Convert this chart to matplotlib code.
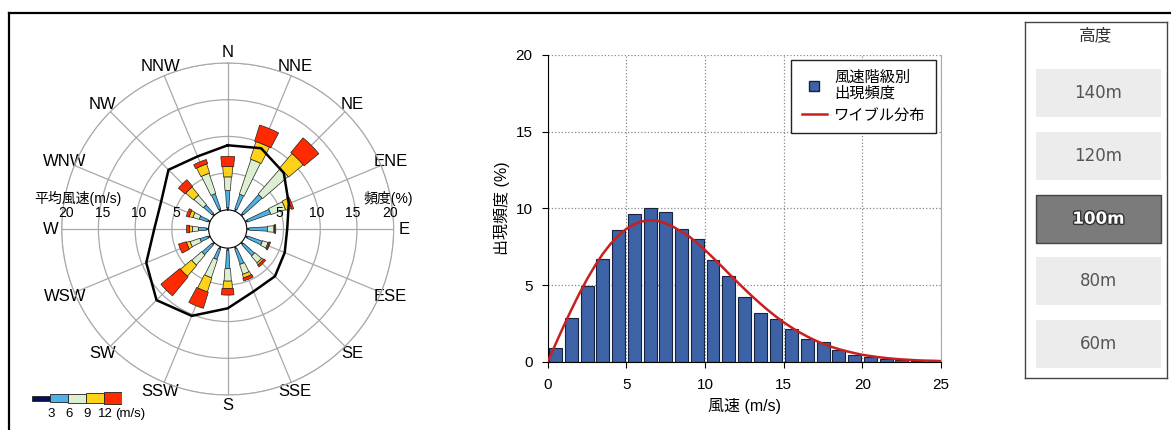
import numpy as np
import matplotlib.pyplot as plt
from matplotlib.lines import Line2D
from matplotlib.patches import Rectangle
import matplotlib.patheffects as pe

plt.rcParams['font.family'] = ['Liberation Sans', 'Noto Sans CJK JP']

# wind rose: frequency (%) of each direction split by wind speed class
directions = ['N', 'NNE', 'NE', 'ENE', 'E', 'ESE', 'SE', 'SSE',
              'S', 'SSW', 'SW', 'WSW', 'W', 'WNW', 'NW', 'NNW']
freq_0_3 = [0.3, 0.3, 0.3, 0.3, 0.3, 0.3, 0.3, 0.3, 0.3, 0.3, 0.3, 0.3, 0.3, 0.3, 0.3, 0.3]
freq_3_6 = [2.35, 2.1, 3.4, 3.3, 2.5, 2.1, 2.0, 2.2, 2.5, 1.5, 1.8, 1.1, 1.1, 1.2, 1.5, 2.2]
freq_6_9 = [1.85, 5.0, 4.6, 2.1, 0.9, 0.8, 1.2, 1.4, 1.7, 2.6, 1.8, 1.4, 0.8, 0.9, 1.7, 2.9]
freq_9_12 = [1.4, 2.5, 2.6, 0.8, 0.1, 0.15, 0.3, 0.5, 1.0, 2.0, 1.95, 0.5, 0.4, 0.5, 1.4, 1.3]
freq_12_up = [1.4, 2.3, 2.6, 0.3, 0.15, 0.15, 0.3, 0.4, 0.9, 2.3, 3.35, 1.1, 0.4, 0.4, 1.2, 0.6]
# mean wind speed (m/s) per direction (black line)
mean_speed = [8.8, 9.3, 8.2, 6.4, 5.5, 5.8, 6.5, 6.6, 8.2, 10.2, 11.1, 9.4, 7.4, 7.2, 8.8, 8.1]
class_edges = [0, 3, 6, 9, 12, 15]
ring_values = [5, 10, 15, 20]

# histogram of wind speed classes (%) and the fitted Weibull curve
speed_bins = list(range(25))
hist_freq = [0.87, 2.87, 4.93, 6.7, 8.57, 9.63, 10.0, 9.78, 8.65, 8.0, 6.63, 5.59, 4.24,
             3.2, 2.8, 2.1, 1.48, 1.3, 0.76, 0.43, 0.33, 0.2, 0.1, 0.05, 0.03]
weibull_x = np.arange(0, 25.5, 0.5)
weibull_y = [0, 1.15, 2.29, 3.38, 4.42, 5.38, 6.25, 7.03, 7.69, 8.23, 8.66, 8.96, 9.15,
             9.22, 9.18, 9.03, 8.79, 8.48, 8.16, 7.74, 7.28, 6.79, 6.28, 5.76, 5.25, 4.75,
             4.26, 3.80, 3.36, 2.95, 2.57, 2.23, 1.92, 1.64, 1.39, 1.17, 0.98, 0.82, 0.68,
             0.56, 0.45, 0.37, 0.30, 0.24, 0.19, 0.15, 0.12, 0.09, 0.07, 0.06, 0.04]

heights = ['140m', '120m', '100m', '80m', '60m']
selected = '100m'

class_colors = ['#0b0b5c', '#4db3e6', '#dcefd0', '#ffd21a', '#ff2a00']
class_widths = [0.06, 0.11, 0.14, 0.16, 0.19]
bar_color = '#3d62a6'
curve_color = '#c8201e'

W, H = 1171, 430
fig = plt.figure(figsize=(W / 100, H / 100), dpi=100)

# ---- wind rose ----
cx, cy, R = 227.7, 229, 166
ax = fig.add_axes([(cx - R) / W, (H - cy - R) / H, 2 * R / W, 2 * R / H], projection='polar')
ax.set_theta_zero_location('N')
ax.set_theta_direction(-1)
ax.set_ylim(0, 20)
ax.set_rorigin(-2.6)
theta = np.deg2rad(np.arange(len(directions)) * 22.5)
ax.set_xticks(theta)
ax.set_xticklabels(directions, fontsize=12)
ax.tick_params(axis='x', pad=-3)
ax.set_yticks(ring_values)
ax.set_yticklabels([])
ax.grid(color='#a8a8a8', lw=0.9)
ax.spines['polar'].set_color('#a8a8a8')
ax.spines['inner'].set_visible(False)

bottom = np.zeros(len(directions))
for vals, col, w in zip([freq_0_3, freq_3_6, freq_6_9, freq_9_12, freq_12_up],
                        class_colors, class_widths):
    ax.bar(theta, vals, width=w, bottom=bottom, color=col, edgecolor='#222222',
           lw=0.5, zorder=3)
    bottom = bottom + np.array(vals)

ax.plot(np.append(theta, theta[0]), np.append(mean_speed, mean_speed[0]),
        color='k', lw=1.8, zorder=4)

for v in ring_values:
    ax.annotate(str(v), xy=(np.pi / 2, v), xytext=(-4, 16), textcoords='offset pixels',
                ha='center', va='center', fontsize=10, annotation_clip=False)
    ax.annotate(str(v), xy=(3 * np.pi / 2, v), xytext=(4, 16), textcoords='offset pixels',
                ha='center', va='center', fontsize=10, annotation_clip=False)
ax.annotate('頻度(%)', xy=(np.pi / 2, 20), xytext=(19, 31), textcoords='offset pixels',
            ha='right', va='center', fontsize=10, annotation_clip=False)
ax.annotate('平均風速(m/s)', xy=(3 * np.pi / 2, 20), xytext=(-27, 31),
            textcoords='offset pixels', ha='left', va='center', fontsize=10,
            annotation_clip=False)

# speed class key
cax = fig.add_axes([31.7 / W, (H - 405) / H, 90 / W, 14 / H])
cax.set_xlim(class_edges[0], class_edges[-1])
cax.set_ylim(-7, 7)
cax.axis('off')
seg_h = [5, 7.5, 9, 10, 11.5]
for i, col in enumerate(class_colors):
    lo, hi = class_edges[i], class_edges[i + 1]
    cax.barh(0, hi - lo, left=lo, height=seg_h[i], color=col, edgecolor='#222222', lw=0.6)
for v in class_edges[1:-1]:
    cax.text(v + 0.3, -16, str(v), ha='center', va='center', fontsize=9.5, clip_on=False)
cax.text(13.9, -16, '(m/s)', ha='left', va='center', fontsize=9.5, clip_on=False)

# ---- histogram ----
hx = fig.add_axes([547.7 / W, (H - 361.7) / H, (941 - 547.7) / W, (361.7 - 55) / H])
hx.bar(np.array(speed_bins) + 0.1, hist_freq, width=0.82, align='edge',
       color=bar_color, edgecolor='#16233f', lw=0.8, zorder=2)
hx.plot(weibull_x, weibull_y, color=curve_color, lw=1.8, zorder=3)
hx.set_xlim(0, 25)
hx.set_ylim(0, 20)
hx.set_xticks(range(0, 26, 5))
hx.set_yticks(range(0, 21, 5))
hx.grid(ls=':', color='#888888', lw=0.9, zorder=0)
hx.tick_params(labelsize=11, length=4, width=0.8, direction='out')
hx.tick_params(axis='x', pad=8)
hx.tick_params(axis='y', pad=7)
hx.spines['top'].set_visible(False)
hx.spines['right'].set_color('#aaaaaa')
hx.set_xlabel('風速 (m/s)', fontsize=11.5, labelpad=4)
hx.set_ylabel('出現頻度 (%)', fontsize=11.5, labelpad=4)
handles = [Line2D([], [], marker='s', ls='', mfc=bar_color, mec='#16233f', ms=7),
           Line2D([], [], color=curve_color, lw=1.8)]
hx.legend(handles, ['風速階級別\n出現頻度', 'ワイブル分布'], loc='upper right',
          fancybox=False, edgecolor='#222222', framealpha=1, fontsize=11,
          borderaxespad=0.3, borderpad=0.7, handlelength=1.6, handletextpad=0.5,
          labelspacing=0.5)

# ---- height selector ----
px = fig.add_axes([1025 / W, (H - 378) / H, 142 / W, 356 / H])
px.set_xlim(0, 142)
px.set_ylim(356, 0)
px.set_xticks([])
px.set_yticks([])
for s in px.spines.values():
    s.set_color('#444444')
    s.set_linewidth(1)
px.text(71, 13, '高度', ha='center', va='center', fontsize=12, color='#333333')
for i, h in enumerate(heights):
    top = 47.3 + 62.7 * i
    if h == selected:
        px.add_patch(Rectangle((11, top), 124.7, 48, fc='#7b7b7b', ec='#444444', lw=1))
        px.text(73.3, top + 24, h, ha='center', va='center', fontsize=12, color='white',
                family='DejaVu Sans', weight='bold',
                path_effects=[pe.withStroke(linewidth=2, foreground='#333333')])
    else:
        px.add_patch(Rectangle((11, top), 124.7, 48, fc='#ececec', ec='none'))
        px.text(73.3, top + 24, h, ha='center', va='center', fontsize=12, color='#555555',
                family='DejaVu Sans')

# page frame
fig.add_artist(Line2D([9 / W, 1], [1 - 13 / H, 1 - 13 / H], color='k', lw=1.6))
fig.add_artist(Line2D([9 / W, 9 / W], [0, 1 - 13 / H], color='k', lw=1.6))

fig.savefig('out.png', dpi=100)
